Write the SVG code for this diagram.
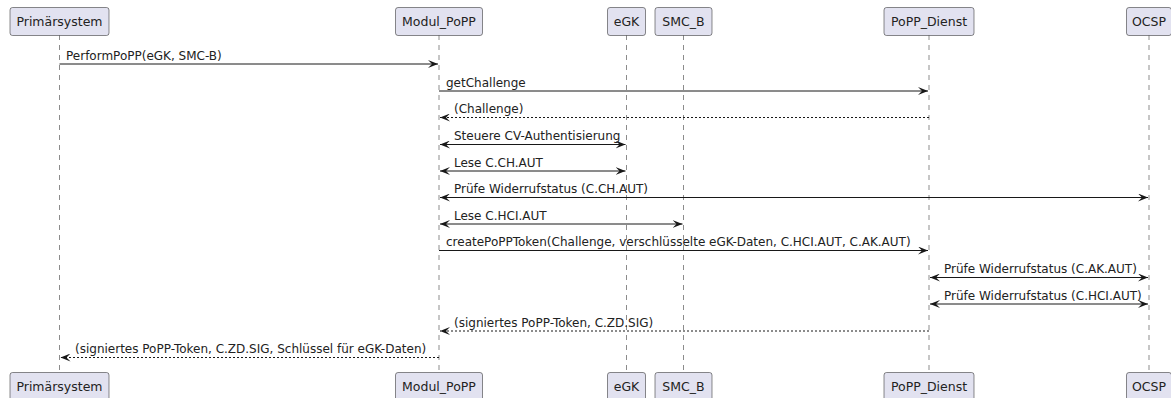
<svg xmlns="http://www.w3.org/2000/svg" width="1171" height="398" viewBox="0 0 1171 398">
<style>
.box{fill:#E2E2F0;stroke:#181818;stroke-width:0.5}
.pt{font-family:"DejaVu Sans",sans-serif;font-size:12.5px;fill:#222;text-anchor:middle}
.life{stroke:#181818;stroke-width:0.5;stroke-dasharray:5,5;fill:none}
.msg{stroke:#181818;stroke-width:1;fill:none}
.ret{stroke:#181818;stroke-width:1;fill:none;stroke-dasharray:2,2}
.mt{font-family:"DejaVu Sans",sans-serif;font-size:12px;fill:#222}
</style>
<defs>
<marker id="ah" markerWidth="11" markerHeight="8" refX="10" refY="4" orient="auto-start-reverse" markerUnits="userSpaceOnUse">
<path d="M0,0 L10,4 L0,8 L4,4 Z" fill="#181818"/>
</marker>
</defs>
<g id="lifelines">
<line class="life" x1="59.5" y1="35" x2="59.5" y2="373"/>
<line class="life" x1="439" y1="35" x2="439" y2="373"/>
<line class="life" x1="626.5" y1="35" x2="626.5" y2="373"/>
<line class="life" x1="683.5" y1="35" x2="683.5" y2="373"/>
<line class="life" x1="929" y1="35" x2="929" y2="373"/>
<line class="life" x1="1149" y1="35" x2="1149" y2="373"/>
</g>
<g id="node-Primaersystem">
<rect class="box" x="10" y="7.5" width="99" height="28" rx="2.5"/>
<text class="pt" x="59.5" y="25.5">Primärsystem</text>
<rect class="box" x="10" y="372.5" width="99" height="28" rx="2.5"/>
<text class="pt" x="59.5" y="391">Primärsystem</text>
</g>
<g id="node-Modul_PoPP">
<rect class="box" x="395.5" y="7.5" width="87" height="28" rx="2.5"/>
<text class="pt" x="439" y="25.5">Modul_PoPP</text>
<rect class="box" x="395.5" y="372.5" width="87" height="28" rx="2.5"/>
<text class="pt" x="439" y="391">Modul_PoPP</text>
</g>
<g id="node-eGK">
<rect class="box" x="607.5" y="7.5" width="38" height="28" rx="2.5"/>
<text class="pt" x="626.5" y="25.5">eGK</text>
<rect class="box" x="607.5" y="372.5" width="38" height="28" rx="2.5"/>
<text class="pt" x="626.5" y="391">eGK</text>
</g>
<g id="node-SMC_B">
<rect class="box" x="655" y="7.5" width="57" height="28" rx="2.5"/>
<text class="pt" x="683.5" y="25.5">SMC_B</text>
<rect class="box" x="655" y="372.5" width="57" height="28" rx="2.5"/>
<text class="pt" x="683.5" y="391">SMC_B</text>
</g>
<g id="node-PoPP_Dienst">
<rect class="box" x="884" y="7.5" width="90" height="28" rx="2.5"/>
<text class="pt" x="929" y="25.5">PoPP_Dienst</text>
<rect class="box" x="884" y="372.5" width="90" height="28" rx="2.5"/>
<text class="pt" x="929" y="391">PoPP_Dienst</text>
</g>
<g id="node-OCSP">
<rect class="box" x="1126.5" y="7.5" width="45" height="28" rx="2.5"/>
<text class="pt" x="1149" y="25.5">OCSP</text>
<rect class="box" x="1126.5" y="372.5" width="45" height="28" rx="2.5"/>
<text class="pt" x="1149" y="391">OCSP</text>
</g>
<g id="connectors">
<line class="msg" x1="59.5" y1="64" x2="438" y2="64" marker-end="url(#ah)"/>
<text class="mt" x="66" y="59.5">PerformPoPP(eGK, SMC-B)</text>
<line class="msg" x1="439" y1="91" x2="928" y2="91" marker-end="url(#ah)"/>
<text class="mt" x="446" y="86.5">getChallenge</text>
<line class="ret" x1="929" y1="117.5" x2="440" y2="117.5" marker-end="url(#ah)"/>
<text class="mt" x="454" y="113">(Challenge)</text>
<line class="msg" x1="440" y1="144.5" x2="625.5" y2="144.5" marker-start="url(#ah)" marker-end="url(#ah)"/>
<text class="mt" x="454" y="140">Steuere CV-Authentisierung</text>
<line class="msg" x1="440" y1="171" x2="625.5" y2="171" marker-start="url(#ah)" marker-end="url(#ah)"/>
<text class="mt" x="454" y="166.5">Lese C.CH.AUT</text>
<line class="msg" x1="440" y1="197.5" x2="1148" y2="197.5" marker-start="url(#ah)" marker-end="url(#ah)"/>
<text class="mt" x="454" y="193">Prüfe Widerrufstatus (C.CH.AUT)</text>
<line class="msg" x1="440" y1="224" x2="682.5" y2="224" marker-start="url(#ah)" marker-end="url(#ah)"/>
<text class="mt" x="454" y="219.5">Lese C.HCI.AUT</text>
<line class="msg" x1="439" y1="250.5" x2="928" y2="250.5" marker-end="url(#ah)"/>
<text class="mt" x="446" y="246">createPoPPToken(Challenge, verschlüsselte eGK-Daten, C.HCI.AUT, C.AK.AUT)</text>
<line class="msg" x1="930" y1="277.5" x2="1148" y2="277.5" marker-start="url(#ah)" marker-end="url(#ah)"/>
<text class="mt" x="944" y="273">Prüfe Widerrufstatus (C.AK.AUT)</text>
<line class="msg" x1="930" y1="304" x2="1148" y2="304" marker-start="url(#ah)" marker-end="url(#ah)"/>
<text class="mt" x="944" y="299.5">Prüfe Widerrufstatus (C.HCI.AUT)</text>
<line class="ret" x1="929" y1="331" x2="440" y2="331" marker-end="url(#ah)"/>
<text class="mt" x="454" y="326.5">(signiertes PoPP-Token, C.ZD.SIG)</text>
<line class="ret" x1="439" y1="357.5" x2="60.5" y2="357.5" marker-end="url(#ah)"/>
<text class="mt" x="75" y="353">(signiertes PoPP-Token, C.ZD.SIG, Schlüssel für eGK-Daten)</text>
</g>
</svg>
